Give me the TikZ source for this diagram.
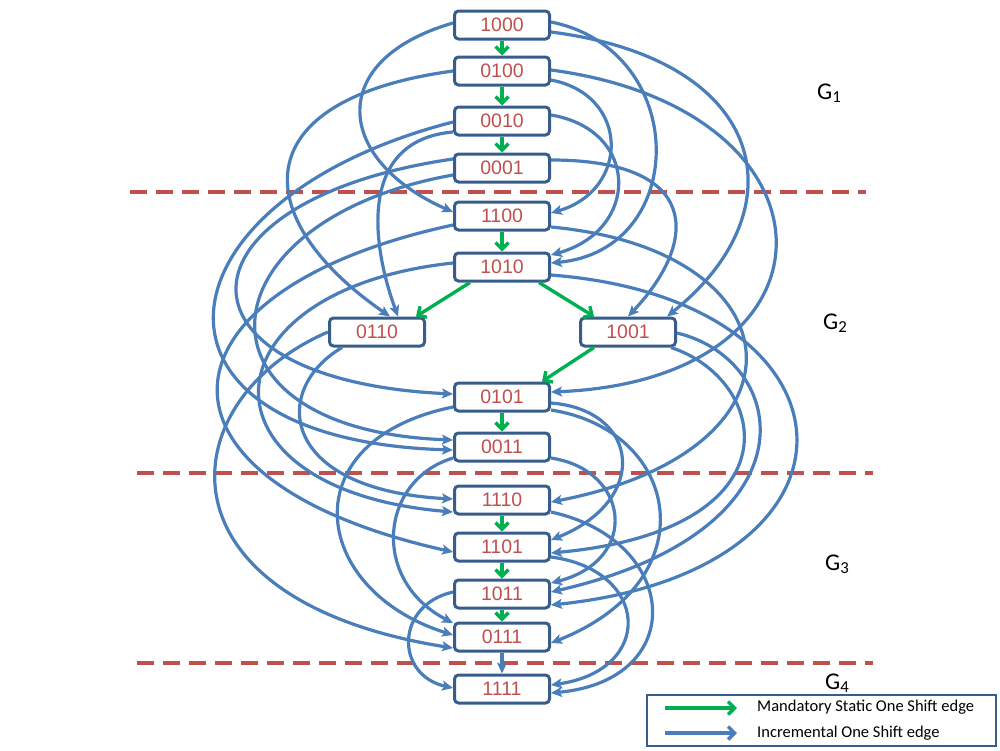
\documentclass[tikz,border=0pt]{standalone}
\usepackage{fontspec}
\newfontfamily\arialf{Liberation Sans}
\newfontfamily\calf{Carlito}
\usetikzlibrary{arrows.meta}
\definecolor{edgeblue}{HTML}{4A7EBB}
\definecolor{boxblue}{HTML}{385D8A}
\definecolor{sgreen}{HTML}{00B050}
\definecolor{labred}{HTML}{C0504D}
\begin{document}
\begin{tikzpicture}[x=1pt,y=-1pt,
  statebox/.style={draw=boxblue, line width=3pt, rounded corners=4pt, fill=white,
    minimum width=95pt, minimum height=28pt, inner sep=0pt, text=labred,
    font=\arialf\fontsize{19.5}{19.5}\selectfont},
  incedge/.style={draw=edgeblue, line width=3.2pt, -{Stealth[length=11pt,width=10pt,inset=2.5pt]}},
  mandedge/.style={draw=sgreen, line width=3.4pt, -{Straight Barb[length=6.5pt,width=13pt]}},
  legblue/.style={draw=edgeblue, line width=3.4pt, -{Straight Barb[length=6.5pt,width=13pt]}},
  sepline/.style={draw=labred, line width=3.4pt, dash pattern=on 17pt off 9pt},
  grp/.style={font=\calf\fontsize{24}{24}\selectfont, inner sep=0pt, anchor=base west},
  legtext/.style={font=\calf\fontsize{16.5}{16.5}\selectfont, inner sep=0pt, anchor=west},
  legbox/.style={draw=boxblue, line width=2.6pt}]
\useasboundingbox (0,0) rectangle (1000,750);

% separators
\draw[sepline] (130,192) -- (866,192);
\draw[sepline] (137,473) -- (873,473);
\draw[sepline] (137,663) -- (873,663);

% group labels
\node[grp] (g1) at (817,99) {G\textsubscript{1}};
\node[grp] (g2) at (823,329) {G\textsubscript{2}};
\node[grp] (g3) at (825,570) {G\textsubscript{3}};
\node[grp] (g4) at (825,689) {G\textsubscript{4}};

% states
\node[statebox] (n1000) at (502,25) {1000};
\node[statebox] (n0100) at (502,71) {0100};
\node[statebox] (n0010) at (502,121) {0010};
\node[statebox] (n0001) at (502,168) {0001};
\node[statebox] (n1100) at (502,216) {1100};
\node[statebox] (n1010) at (502,267) {1010};
\node[statebox] (n0110) at (377,332) {0110};
\node[statebox] (n1001) at (628,332) {1001};
\node[statebox] (n0101) at (502,397) {0101};
\node[statebox] (n0011) at (502,447) {0011};
\node[statebox] (n1110) at (502,500) {1110};
\node[statebox] (n1101) at (502,547) {1101};
\node[statebox] (n1011) at (502,594) {1011};
\node[statebox] (n0111) at (502,637) {0111};
\node[statebox] (n1111) at (502,689) {1111};

% mandatory static one shift edges
\draw[mandedge] (n1000.south) -- (n0100.north);
\draw[mandedge] (n0100.south) -- (n0010.north);
\draw[mandedge] (n0010.south) -- (n0001.north);
\draw[mandedge] (n1100.south) -- (n1010.north);
\draw[mandedge] ([xshift=-32pt]n1010.south) -- ([xshift=39pt]n0110.north);
\draw[mandedge] ([xshift=37pt]n1010.south) -- ([xshift=-34pt]n1001.north);
\draw[mandedge] ([xshift=-34pt]n1001.south) -- ([xshift=40pt]n0101.north);
\draw[mandedge] (n0101.south) -- (n0011.north);
\draw[mandedge] (n1110.south) -- (n1101.north);
\draw[mandedge] (n1101.south) -- (n1011.north);
\draw[mandedge] (n1011.south) -- (n0111.north);

% incremental one shift edges, right side
\draw[incedge] ([yshift=3pt]n1000.east) .. controls (690,50) and (690,250) .. ([yshift=4pt]n1010.east);
\draw[incedge] ([yshift=-7pt]n1000.east) .. controls (770,60) and (800,210) .. ([xshift=39pt]n1001.north);
\draw[incedge] ([yshift=1pt]n0100.east) .. controls (850,110) and (850,380) .. ([yshift=5pt]n0101.east);
\draw[incedge] ([yshift=-9pt]n0100.east) .. controls (630,95) and (630,190) .. ([yshift=3pt]n1100.east);
\draw[incedge] ([yshift=6pt]n0010.east) .. controls (640,130) and (640,230) .. ([yshift=12pt]n1010.east);
\draw[incedge] ([yshift=8pt]n0001.east) .. controls (700,160) and (700,240) .. (n1001.north);
\draw[incedge] ([yshift=-11pt]n1100.east) .. controls (800,250) and (820,450) .. ([yshift=-2pt]n1110.east);
\draw[incedge] ([yshift=-8pt]n1010.east) .. controls (870,300) and (885,570) .. ([yshift=-11pt]n1011.east);
\draw[incedge] ([yshift=-1pt]n1001.east) .. controls (790,360) and (820,530) .. ([yshift=2pt]n1011.east);
\draw[incedge] ([xshift=-6pt]n1001.south east) .. controls (770,380) and (800,530) .. ([yshift=-6pt]n1101.east);
\draw[incedge] ([yshift=-6pt]n0101.east) .. controls (640,410) and (650,500) .. ([yshift=7pt]n1101.east);
\draw[incedge] ([yshift=-13pt]n0101.east) .. controls (680,430) and (710,580) .. ([yshift=-6pt]n0111.east);
\draw[incedge] ([yshift=-11pt]n0011.east) .. controls (630,470) and (640,560) .. ([yshift=11pt]n1011.east);
\draw[incedge] ([yshift=-12pt]n1110.east) .. controls (680,540) and (690,680) .. ([yshift=-4pt]n1111.east);
\draw[incedge] ([yshift=-10pt]n1101.east) .. controls (650,570) and (655,670) .. ([yshift=4pt]n1111.east);

% incremental one shift edges, left side
\draw[incedge] ([yshift=2pt]n1000.west) .. controls (325,60) and (335,160) .. ([yshift=4pt]n1100.west);
\draw[incedge] (n0100.west) .. controls (240,100) and (250,220) .. ([xshift=13pt]n0110.north);
\draw[incedge] ([yshift=-11pt]n0010.west) .. controls (360,140) and (370,240) .. ([xshift=21pt]n0110.north);
\draw[incedge] ([yshift=-1pt]n0010.west) .. controls (150,200) and (120,440) .. ([yshift=-3pt]n0011.west);
\draw[incedge] ([yshift=9pt]n0001.west) .. controls (170,200) and (160,380) .. ([yshift=3pt]n0101.west);
\draw[incedge] ([yshift=-7pt]n0001.west) .. controls (200,220) and (180,430) .. ([yshift=7pt]n0011.west);
\draw[incedge] ([yshift=-9pt]n1100.west) .. controls (150,290) and (130,480) .. ([yshift=-5pt]n1101.west);
\draw[incedge] ([yshift=4pt]n1010.west) .. controls (200,290) and (190,490) .. ([yshift=-12pt]n1110.west);
\draw[incedge] (n0110.west) .. controls (170,400) and (150,600) .. ([yshift=-11pt]n0111.west);
\draw[incedge] ([xshift=-35pt]n0110.south) .. controls (270,390) and (280,490) .. ([yshift=1pt]n1110.west);
\draw[incedge] ([yshift=-10pt]n0101.west) .. controls (290,440) and (310,590) .. ([yshift=2pt]n0111.west);
\draw[incedge] ([yshift=-11pt]n0011.west) .. controls (380,480) and (370,580) .. ([yshift=14pt]n0111.west);
\draw[incedge] ([yshift=2pt]n1011.west) .. controls (395,605) and (395,675) .. ([yshift=1pt]n1111.west);
\draw[incedge] (n0111.south) -- (n1111.north);

% legend
\draw[legbox] (647,695) rectangle (996,746);
\coordinate (lg1a) at (665,708);
\coordinate (lg1b) at (737,708);
\coordinate (lg2a) at (665,733);
\coordinate (lg2b) at (737,733);
\draw[mandedge] (lg1a) -- (lg1b);
\draw[legblue] (lg2a) -- (lg2b);
\node[legtext] (lt1) at (757,707) {Mandatory Static One Shift edge};
\node[legtext] (lt2) at (757,733) {Incremental One Shift edge};
\end{tikzpicture}
\end{document}
